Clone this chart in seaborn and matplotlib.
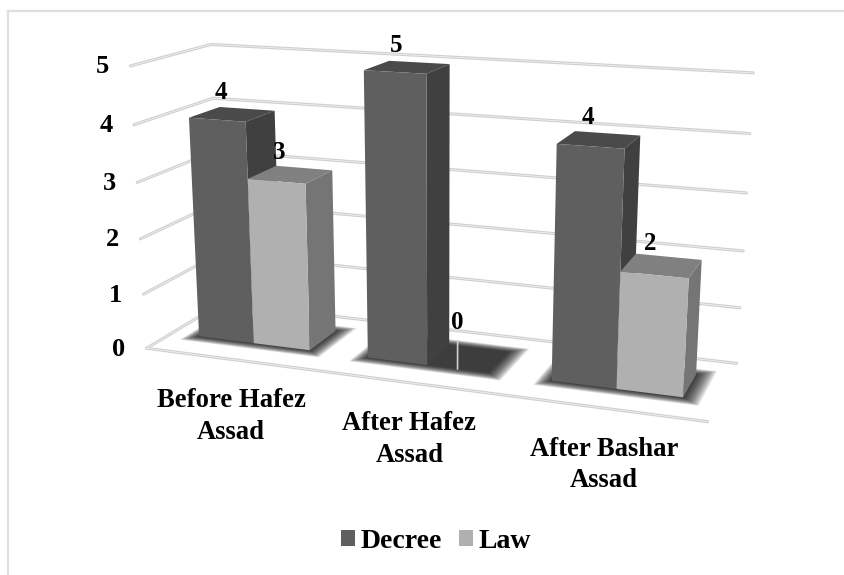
import numpy as np
import pandas as pd
import matplotlib
matplotlib.use("Agg")
import matplotlib.pyplot as plt
import seaborn as sns
from matplotlib.patches import Polygon
from matplotlib.transforms import Transform, IdentityTransform

periods = ["Before Hafez\nAssad", "After Hafez\nAssad", "After Bashar\nAssad"]
decree = [4, 5, 4]
law = [3, 0, 2]
y_ticks = [0, 1, 2, 3, 4, 5]

W, H = 844, 575
DEPTH_FRONT, DEPTH_BACK = 0.32, 0.72
BAR_WIDTH = 0.665
FONT = dict(family="Liberation Serif", weight="bold", color="black")

# box corners as they sit in the picture: (x, value, depth) -> pixel
calib = [
    ((-0.5, 0, 0), (147, 348)), ((2.5, 0, 0), (708, 421)),
    ((-0.5, 0, 1), (222, 303)), ((2.5, 0, 1), (737, 364)),
    ((-0.5, 1, 0), (143, 294)), ((-0.5, 2, 0), (140, 239)),
    ((-0.5, 3, 0), (137, 183)), ((-0.5, 4, 0), (134, 125)),
    ((-0.5, 5, 0), (131, 66)), ((-0.5, 5, 1), (211, 44)),
    ((2.5, 1, 1), (739, 308)), ((2.5, 2, 1), (743, 251)),
    ((2.5, 3, 1), (747, 193)), ((2.5, 4, 1), (750, 133)),
    ((2.5, 5, 1), (753, 73)),
]


def fit_camera(points):
    rows = []
    for (x, v, d), (u, w) in points:
        u, w = u / 100, w / 100
        rows.append([x, v, d, 1, 0, 0, 0, 0, -u * x, -u * v, -u * d, -u])
        rows.append([0, 0, 0, 0, x, v, d, 1, -w * x, -w * v, -w * d, -w])
    return np.linalg.svd(np.array(rows))[2][-1].reshape(3, 4)


CAM = fit_camera(calib)


def project(x, v, d):
    p = CAM @ np.array([x, v, d, 1.0])
    return p[0] / p[2] * 100, H - p[1] / p[2] * 100


class DepthPlane(Transform):
    # data coords at a fixed depth -> display pixels
    input_dims = 2
    output_dims = 2

    def __init__(self, plane_depth):
        super().__init__()
        self.plane_depth = plane_depth

    def transform_non_affine(self, values):
        values = np.asarray(values, dtype=float)
        return np.array([project(x, v, self.plane_depth) for x, v in values]).reshape(-1, 2)


def face(ax, corners, color, z):
    pts = [project(*c) for c in corners]
    ax.add_patch(Polygon(pts, closed=True, facecolor=color, edgecolor="none",
                         transform=IdentityTransform(), zorder=z, clip_on=False))


def grid_line(ax, a, b):
    pa, pb = project(*a), project(*b)
    xs, ys = [pa[0], pb[0]], [pa[1], pb[1]]
    ax.plot(xs, ys, color="#cfcfcf", lw=2.2, transform=IdentityTransform(), zorder=1,
            clip_on=False, solid_capstyle="round")
    ax.plot(xs, ys, color="#f0f0f0", lw=0.6, transform=IdentityTransform(), zorder=1.1,
            clip_on=False)


df = pd.DataFrame({
    "period": periods * 2,
    "count": decree + law,
    "type": ["Decree"] * 3 + ["Law"] * 3,
})

fig = plt.figure(figsize=(W / 100, H / 100), dpi=100, facecolor="white")
ax = fig.add_axes([0, 0, 1, 1])
sns.barplot(data=df, x="period", y="count", hue="type",
            palette={"Decree": "#5f5f5f", "Law": "#b0b0b0"},
            width=BAR_WIDTH, gap=0, saturation=1, ax=ax)
ax.set_xlim(-0.5, 2.5)
ax.set_ylim(0, 5)
ax.set_axis_off()

# outer frame runs off the right and bottom edges
for xs, ys in [([7.5, 7.5], [0, H - 11]), ([7.5, W], [H - 11, H - 11])]:
    ax.plot(xs, ys, color="#dedede", lw=1.6, transform=IdentityTransform(), clip_on=False)

# walls and floor
for v in y_ticks:
    grid_line(ax, (-0.5, v, 0), (-0.5, v, 1))
    grid_line(ax, (-0.5, v, 1), (2.5, v, 1))
grid_line(ax, (-0.5, 0, 0), (2.5, 0, 0))

shades = {0: ("#4a4a4a", "#404040"), 1: ("#808080", "#757575")}

# floor shadows under each group, stacked thin layers give the soft edge
for i in range(len(periods)):
    x0, x1 = i - BAR_WIDTH / 2, i + BAR_WIDTH / 2
    for m in np.linspace(0.1, 0.005, 10):
        face(ax, [(x0 - m * 0.7, 0, DEPTH_FRONT - m), (x1 + m * 0.9, 0, DEPTH_FRONT - m),
                  (x1 + m * 0.9, 0, DEPTH_BACK + m), (x0 - m * 0.7, 0, DEPTH_BACK + m)],
             (0, 0, 0, 0.13), 2)

z = 3
for i in range(len(periods)):
    for s, container in enumerate(ax.containers):
        bar = container[i]
        x0, wd, v = bar.get_x(), bar.get_width(), bar.get_height()
        x1 = x0 + wd
        top, side = shades[s]
        if v > 0:
            face(ax, [(x0, v, DEPTH_FRONT), (x1, v, DEPTH_FRONT),
                      (x1, v, DEPTH_BACK), (x0, v, DEPTH_BACK)], top, z)
            face(ax, [(x1, 0, DEPTH_FRONT), (x1, v, DEPTH_FRONT),
                      (x1, v, DEPTH_BACK), (x1, 0, DEPTH_BACK)], side, z)
        bar.set_transform(DepthPlane(DEPTH_FRONT))
        bar.set_clip_on(False)
        bar.set_linewidth(0)
        bar.set_zorder(z + 0.5)
        z += 1

        cx = x0 + wd / 2
        px, py = project(cx, v, (DEPTH_FRONT + DEPTH_BACK) / 2)
        lift = 22
        if v == 0:
            lift = 36
            a, b = project(cx, 0, DEPTH_FRONT), project(cx, 0.5, DEPTH_FRONT)
            ax.plot([a[0], b[0]], [a[1], b[1]], color="#d0d0d0", lw=1.2,
                    transform=IdentityTransform(), zorder=z + 20, clip_on=False)
        ax.text(px - 11, py + lift, f"{v:.0f}", ha="center", va="center",
                fontsize=18, transform=IdentityTransform(), zorder=100, **FONT)

for v in y_ticks:
    px, py = project(-0.5, v, 0)
    ax.text(px - 28, py - 1, str(v), ha="center", va="center", fontsize=19,
            transform=IdentityTransform(), zorder=100, **FONT)

for i, name in enumerate(periods):
    px, py = project(i, 0, 0)
    ax.text(px + 1, py - 57, name, ha="center", va="center", fontsize=19.2,
            linespacing=1.35, transform=IdentityTransform(), zorder=100, **FONT)

sns.move_legend(ax, "center", bbox_to_anchor=(436 / W, 1 - 541 / H), ncol=2, frameon=False,
                title=None, prop=dict(family="Liberation Serif", weight="bold", size=20),
                handlelength=0.5, handleheight=0.5, handletextpad=0.22, columnspacing=0.6)

fig.savefig("out.png", dpi=100)
